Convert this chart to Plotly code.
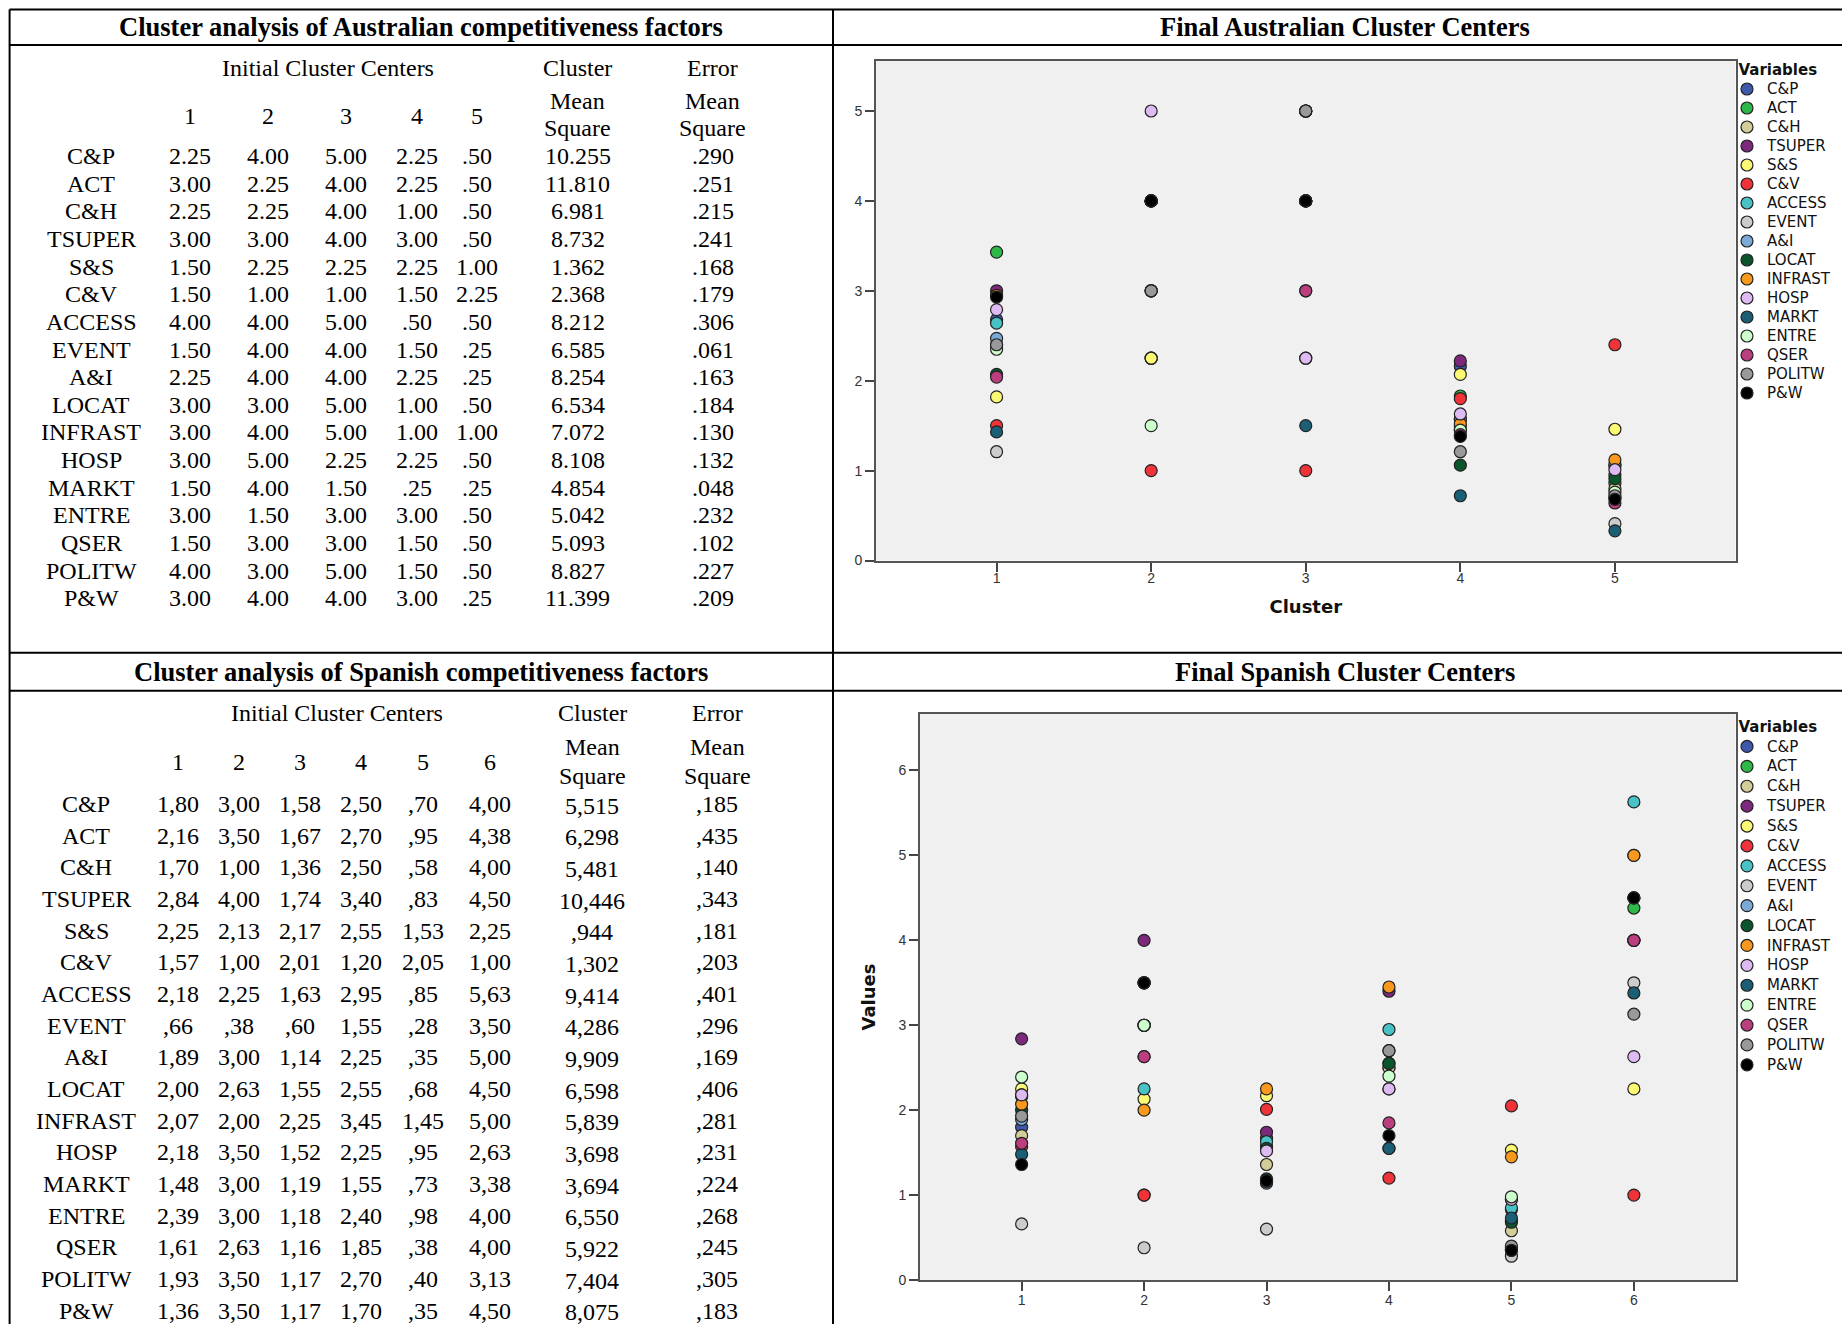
import plotly.graph_objects as go

W, H = 1842, 1324

# ---------------- data ----------------
variables = ["C&P", "ACT", "C&H", "TSUPER", "S&S", "C&V", "ACCESS", "EVENT", "A&I",
             "LOCAT", "INFRAST", "HOSP", "MARKT", "ENTRE", "QSER", "POLITW", "P&W"]
colors = ["#3E58AC", "#2EB848", "#D3CE97", "#7C287D", "#FBF873", "#EF3338", "#48C2C5",
          "#CCCCCC", "#7AAAD5", "#0A562C", "#F8981D", "#DDBAF1", "#1A5F76", "#CCFFCC",
          "#BB3F7F", "#999999", "#000000"]

# Australian table: initial cluster centers
aus_clusters = [1, 2, 3, 4, 5]
aus_init_c1 = [2.25, 3.00, 2.25, 3.00, 1.50, 1.50, 4.00, 1.50, 2.25, 3.00, 3.00, 3.00, 1.50, 3.00, 1.50, 4.00, 3.00]
aus_init_c2 = [4.00, 2.25, 2.25, 3.00, 2.25, 1.00, 4.00, 4.00, 4.00, 3.00, 4.00, 5.00, 4.00, 1.50, 3.00, 3.00, 4.00]
aus_init_c3 = [5.00, 4.00, 4.00, 4.00, 2.25, 1.00, 5.00, 4.00, 4.00, 5.00, 5.00, 2.25, 1.50, 3.00, 3.00, 5.00, 4.00]
aus_init_c4 = [2.25, 2.25, 1.00, 3.00, 2.25, 1.50, 0.50, 1.50, 2.25, 1.00, 1.00, 2.25, 0.25, 3.00, 1.50, 1.50, 3.00]
aus_init_c5 = [0.50, 0.50, 0.50, 0.50, 1.00, 2.25, 0.50, 0.25, 0.25, 0.50, 1.00, 0.50, 0.25, 0.50, 0.50, 0.50, 0.25]
aus_cluster_ms = [10.255, 11.810, 6.981, 8.732, 1.362, 2.368, 8.212, 6.585, 8.254, 6.534, 7.072, 8.108, 4.854, 5.042, 5.093, 8.827, 11.399]
aus_error_ms = [0.290, 0.251, 0.215, 0.241, 0.168, 0.179, 0.306, 0.061, 0.163, 0.184, 0.130, 0.132, 0.048, 0.232, 0.102, 0.227, 0.209]

# Australian chart: final cluster centers
aus_final_c1 = [2.68, 3.43, 2.40, 3.00, 1.82, 1.50, 2.64, 1.21, 2.47, 2.07, 2.95, 2.79, 1.43, 2.35, 2.04, 2.40, 2.93]
aus_final_c2 = [4.00, 2.25, 2.25, 3.00, 2.25, 1.00, 4.00, 4.00, 4.00, 3.00, 4.00, 5.00, 4.00, 1.50, 3.00, 3.00, 4.00]
aus_final_c3 = [5.00, 4.00, 4.00, 4.00, 2.25, 1.00, 5.00, 4.00, 4.00, 5.00, 5.00, 2.25, 1.50, 3.00, 3.00, 5.00, 4.00]
aus_final_c4 = [2.16, 1.83, 1.57, 2.22, 2.07, 1.80, 1.50, 1.45, 1.57, 1.06, 1.52, 1.63, 0.72, 1.45, 1.40, 1.21, 1.38]
aus_final_c5 = [1.05, 0.86, 0.80, 0.70, 1.46, 2.40, 1.07, 0.41, 0.95, 0.91, 1.12, 1.01, 0.33, 0.76, 0.64, 0.72, 0.68]

# Spanish table: initial cluster centers (same values plotted in the Spanish chart)
spa_clusters = [1, 2, 3, 4, 5, 6]
spa_c1 = [1.80, 2.16, 1.70, 2.84, 2.25, 1.57, 2.18, 0.66, 1.89, 2.00, 2.07, 2.18, 1.48, 2.39, 1.61, 1.93, 1.36]
spa_c2 = [3.00, 3.50, 1.00, 4.00, 2.13, 1.00, 2.25, 0.38, 3.00, 2.63, 2.00, 3.50, 3.00, 3.00, 2.63, 3.50, 3.50]
spa_c3 = [1.58, 1.67, 1.36, 1.74, 2.17, 2.01, 1.63, 0.60, 1.14, 1.55, 2.25, 1.52, 1.19, 1.18, 1.16, 1.17, 1.17]
spa_c4 = [2.50, 2.70, 2.50, 3.40, 2.55, 1.20, 2.95, 1.55, 2.25, 2.55, 3.45, 2.25, 1.55, 2.40, 1.85, 2.70, 1.70]
spa_c5 = [0.70, 0.95, 0.58, 0.83, 1.53, 2.05, 0.85, 0.28, 0.35, 0.68, 1.45, 0.95, 0.73, 0.98, 0.38, 0.40, 0.35]
spa_c6 = [4.00, 4.38, 4.00, 4.50, 2.25, 1.00, 5.63, 3.50, 5.00, 4.50, 5.00, 2.63, 3.38, 4.00, 4.00, 3.13, 4.50]
spa_cluster_ms = [5.515, 6.298, 5.481, 10.446, 0.944, 1.302, 9.414, 4.286, 9.909, 6.598, 5.839, 3.698, 3.694, 6.550, 5.922, 7.404, 8.075]
spa_error_ms = [0.185, 0.435, 0.140, 0.343, 0.181, 0.203, 0.401, 0.296, 0.169, 0.406, 0.281, 0.231, 0.224, 0.268, 0.245, 0.305, 0.183]

# ---------------- helpers ----------------
def px(x):
    return x / W

def py(y):
    return 1 - y / H

def fmt_en(v, d):
    s = f"{v:.{d}f}"
    if s.startswith("0."):
        s = s[1:]
    return s

def fmt_es(v, d):
    return fmt_en(v, d).replace(".", ",")

SERIF = "Liberation Serif"
SANS = "DejaVu Sans"
annotations = []

def text(x, y, s, size=24, bold=False):
    annotations.append(dict(
        x=px(x), y=py(y), xref="paper", yref="paper", showarrow=False,
        text=f"<b>{s}</b>" if bold else s, xanchor="center", yanchor="middle",
        font=dict(family=SERIF, size=size, color="black")))

fig = go.Figure()

# ---------------- scatter traces ----------------
aus_final = [aus_final_c1, aus_final_c2, aus_final_c3, aus_final_c4, aus_final_c5]
spa_cols = [spa_c1, spa_c2, spa_c3, spa_c4, spa_c5, spa_c6]

for i, v in enumerate(variables):
    fig.add_trace(go.Scatter(
        x=aus_clusters, y=[col[i] for col in aus_final], mode="markers",
        name=f'<span style="font-size:15px">{v}</span>',
        marker=dict(size=12, color=colors[i], line=dict(color="#222222", width=1.2)),
        xaxis="x", yaxis="y", legend="legend", cliponaxis=False))

for i, v in enumerate(variables):
    fig.add_trace(go.Scatter(
        x=spa_clusters, y=[col[i] for col in spa_cols], mode="markers",
        name=f'<span style="font-size:15px">{v}</span>',
        marker=dict(size=12, color=colors[i], line=dict(color="#222222", width=1.2)),
        xaxis="x2", yaxis="y2", legend="legend2", cliponaxis=False))

# ---------------- tables ----------------
# Australian
text(420.5, 27, "Cluster analysis of Australian competitiveness factors", size=26.5, bold=True)
text(1345, 27, "Final Australian Cluster Centers", size=26.5, bold=True)
aus_col_x = [190, 268, 345.5, 417, 477]
text(328, 68, "Initial Cluster Centers")
text(577.5, 68, "Cluster")
text(712.5, 68, "Error")
text(577.5, 101.5, "Mean")
text(712.5, 101.5, "Mean")
text(577.5, 128.5, "Square")
text(712.5, 128.5, "Square")
for k, c in enumerate(aus_clusters):
    text(aus_col_x[k], 116, str(c))
aus_init = [aus_init_c1, aus_init_c2, aus_init_c3, aus_init_c4, aus_init_c5]
for i, v in enumerate(variables):
    yy = 156 + i * 27.65
    text(91, yy, v)
    for k in range(5):
        text(aus_col_x[k], yy, fmt_en(aus_init[k][i], 2))
    text(577.5, yy, fmt_en(aus_cluster_ms[i], 3))
    text(712.5, yy, fmt_en(aus_error_ms[i], 3))

# Spanish
text(420.5, 672, "Cluster analysis of Spanish competitiveness factors", size=26.5, bold=True)
text(1345, 672, "Final Spanish Cluster Centers", size=26.5, bold=True)
spa_col_x = [178, 239, 300, 361, 423, 490]
text(337, 713, "Initial Cluster Centers")
text(592, 713, "Cluster")
text(717, 713, "Error")
text(592, 747.5, "Mean")
text(717, 747.5, "Mean")
text(592, 776, "Square")
text(717, 776, "Square")
for k, c in enumerate(spa_clusters):
    text(spa_col_x[k], 761.5, str(c))
for i, v in enumerate(variables):
    yy = 804 + i * 31.67
    text(86, yy, v)
    for k in range(6):
        text(spa_col_x[k], yy, fmt_es(spa_cols[k][i], 2))
    text(592, yy + 1.5, fmt_es(spa_cluster_ms[i], 3))
    text(717, yy, fmt_es(spa_error_ms[i], 3))

# ---------------- grid lines ----------------
def hline(y, x0=9.5, x1=W):
    return dict(type="line", xref="paper", yref="paper", x0=px(x0), x1=px(x1),
                y0=py(y), y1=py(y), line=dict(color="black", width=2))

def vline(x, y0=9.5, y1=H):
    return dict(type="line", xref="paper", yref="paper", x0=px(x), x1=px(x),
                y0=py(y0), y1=py(y1), line=dict(color="black", width=2))

shapes = [hline(9.5), hline(45), hline(652.7), hline(690.7), vline(9.6), vline(833)]

# ---------------- axes ----------------
axis_common = dict(
    ticks="outside", ticklen=9, tickwidth=1.5, tickcolor="#444444",
    showline=True, linecolor="#555555", linewidth=2, mirror=True,
    showgrid=False, zeroline=False, automargin=False,
    tickfont=dict(family="Liberation Sans", size=14, color="#333333"))

legend_common = dict(
    xanchor="left", yanchor="top", bgcolor="rgba(0,0,0,0)", borderwidth=0,
    itemsizing="trace", tracegroupgap=0,
    title=dict(text="&nbsp;&nbsp;<b>Variables</b>",
               font=dict(family=SANS, size=15, color="#111111")))

fig.update_layout(
    template="none",
    width=W, height=H,
    margin=dict(l=0, r=0, t=0, b=0),
    paper_bgcolor="white", plot_bgcolor="#F0F0F0",
    showlegend=True,
    xaxis=dict(domain=[px(876), px(1735.5)], range=[0.22, 5.78], tickvals=aus_clusters,
               anchor="y", ticklabelstandoff=-5,
               title=dict(text="<b>Cluster</b>", font=dict(family=SANS, size=18, color="#111111"),
                          standoff=15),
               **axis_common),
    yaxis=dict(domain=[py(560.5), py(61)], range=[0, 5.556], tickvals=[0, 1, 2, 3, 4, 5],
               anchor="x", **axis_common),
    xaxis2=dict(domain=[px(920), px(1735.5)], range=[0.17, 6.83], tickvals=spa_clusters,
                anchor="y2", ticklabelstandoff=-3, **axis_common),
    yaxis2=dict(domain=[py(1280), py(714)], range=[0, 6.665], tickvals=[0, 1, 2, 3, 4, 5, 6],
                anchor="x2",
                title=dict(text="<b>Values</b>", font=dict(family=SANS, size=18, color="#111111"),
                           standoff=18),
                **axis_common),
    legend=dict(x=px(1727), y=py(55), font=dict(family=SANS, size=12, color="#111111"),
                **legend_common),
    legend2=dict(x=px(1727), y=py(712), font=dict(family=SANS, size=13, color="#111111"),
                 **legend_common),
    annotations=annotations,
    shapes=shapes,
)

fig.write_html("out.html",
               config={"displayModeBar": False},
               post_script="document.body.style.margin='0';document.body.style.overflow='hidden';")
